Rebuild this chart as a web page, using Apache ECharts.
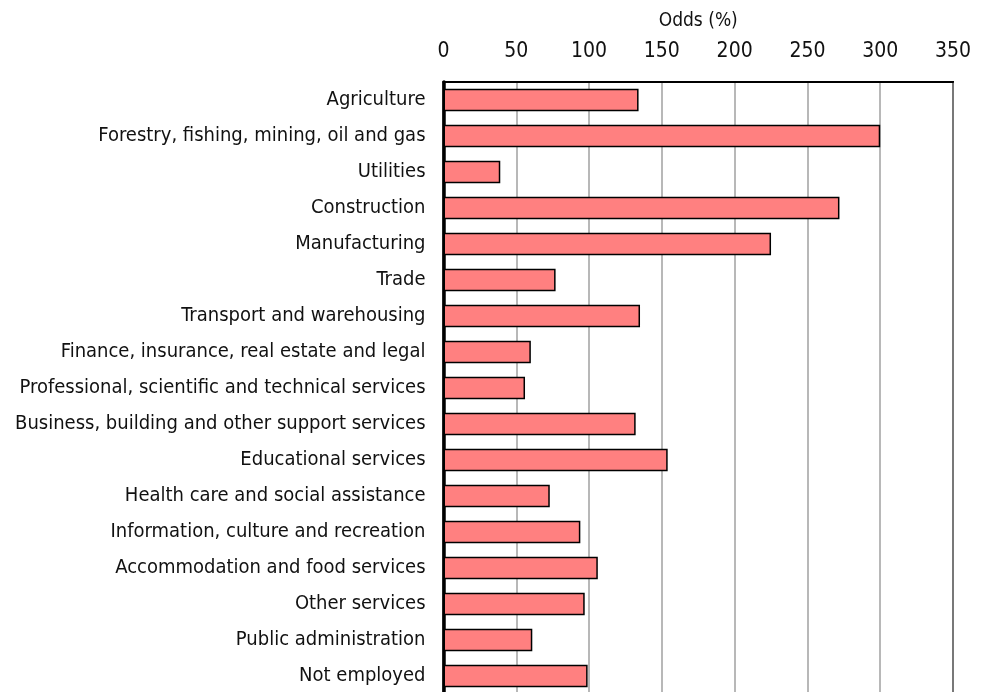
<!DOCTYPE html>
<html>
<head>
<meta charset="utf-8">
<style>
  html, body { margin: 0; padding: 0; background: #fff; }
  #chart { width: 985px; height: 692px; }
</style>
<script src="https://cdn.jsdelivr.net/npm/echarts@6/dist/echarts.min.js"></script>
</head>
<body>
<div id="chart"></div>
<script>
// Industry categories, top to bottom
const categories = [
  'Agriculture',
  'Forestry, fishing, mining, oil and gas',
  'Utilities',
  'Construction',
  'Manufacturing',
  'Trade',
  'Transport and warehousing',
  'Finance, insurance, real estate and legal',
  'Professional, scientific and technical services',
  'Business, building and other support services',
  'Educational services',
  'Health care and social assistance',
  'Information, culture and recreation',
  'Accommodation and food services',
  'Other services',
  'Public administration',
  'Not employed'
];

// Odds (%) for each category
const odds = [134, 300, 39, 272, 225, 77, 135, 60, 56, 132, 154, 73, 94, 106, 97, 61, 99];

// Value axis ticks
const axisMin = 0;
const axisMax = 350;
const axisStep = 50;

const FONT = '"DejaVu Sans Condensed", "Liberation Sans", sans-serif';

const chart = echarts.init(document.getElementById('chart'), null, { renderer: 'canvas' });

chart.setOption({
  animation: false,
  backgroundColor: '#ffffff',
  grid: {
    left: 443.5,
    right: 32,
    top: 82,
    bottom: -2,
    outerBoundsMode: 'none',
    show: true,
    borderColor: '#000',
    borderWidth: 2,
    backgroundColor: 'transparent'
  },
  xAxis: {
    type: 'value',
    position: 'top',
    min: axisMin,
    max: axisMax,
    interval: axisStep,
    name: 'Odds (%)',
    nameLocation: 'middle',
    nameGap: 51,
    nameTextStyle: { fontFamily: FONT, fontSize: 19, color: '#111' },
    axisLine: { show: true, lineStyle: { color: '#000', width: 2 } },
    axisTick: { show: false },
    axisLabel: { fontFamily: FONT, fontSize: 21, color: '#111', margin: 20 },
    splitLine: { show: true, lineStyle: { color: '#a0a0a0', width: 1.5 } }
  },
  yAxis: {
    type: 'category',
    data: categories,
    inverse: true,
    axisLine: { show: true, lineStyle: { color: '#000', width: 3.5 } },
    axisTick: { show: false },
    axisLabel: { fontFamily: FONT, fontSize: 20, color: '#111', margin: 18 },
    splitLine: { show: false }
  },
  series: [{
    type: 'bar',
    data: odds,
    barWidth: '62%',
    itemStyle: { color: '#ff8080', borderColor: '#000', borderWidth: 1.5 }
  }]
});
</script>
</body>
</html>
